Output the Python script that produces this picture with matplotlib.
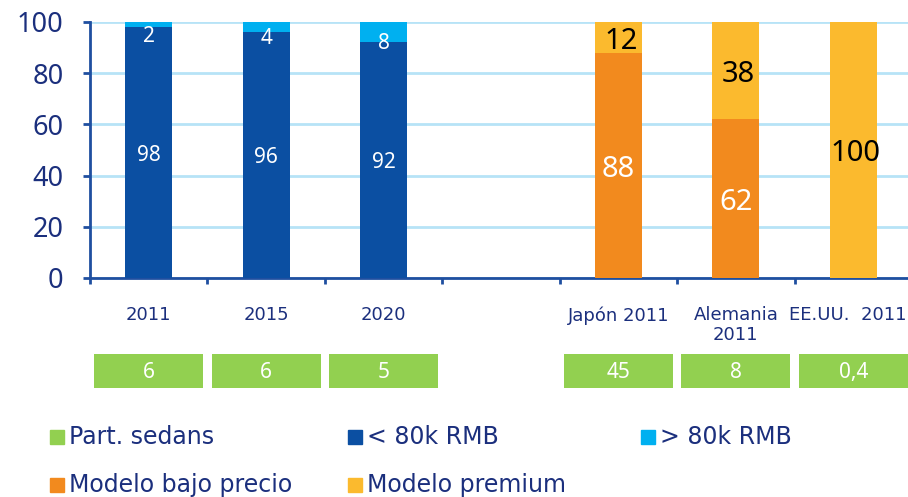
import matplotlib.pyplot as plt
from matplotlib.patches import Rectangle

# Data
categories = ['2011', '2015', '2020', '', 'Japón 2011', 'Alemania\n2011', 'EE.UU.  2011']
below_80k = [98, 96, 92, 0, 0, 0, 0]
above_80k = [2, 4, 8, 0, 0, 0, 0]
low_price = [0, 0, 0, 0, 88, 62, 0]
premium = [0, 0, 0, 0, 12, 38, 100]
sedan_share = ['6', '6', '5', '', '45', '8', '0,4']
legend_labels = ['Part. sedans', '< 80k RMB', '> 80k RMB', 'Modelo bajo precio', 'Modelo premium']

# Colours
navy = '#1b2f7d'
dark_blue = '#0b4fa2'
light_blue = '#00b0f0'
orange = '#f28a1e'
yellow = '#fbba2e'
green = '#92d050'
grid_blue = '#b7e3f7'
spine_blue = '#1f4fa0'

normal_font = ['Noto Sans', 'DejaVu Sans']

W, H = 908, 497
fig = plt.figure(figsize=(W / 100, H / 100), dpi=100)
ax = fig.add_axes([90 / W, 1 - 278 / H, 822 / W, 256 / H])

x = list(range(len(categories)))
w = 0.4

# stacked bars
ax.bar(x, below_80k, width=w, color=dark_blue, zorder=3)
ax.bar(x, above_80k, width=w, bottom=below_80k, color=light_blue, zorder=3)
ax.bar(x, low_price, width=w, color=orange, zorder=3)
ax.bar(x, premium, width=w, bottom=low_price, color=yellow, zorder=3)

# labels inside the bars
for i in x:
    if below_80k[i]:
        ax.text(i, below_80k[i] / 2 - 1, str(below_80k[i]), ha='center', va='center',
                color='white', fontsize=15, family=normal_font, zorder=4)
        ax.text(i, below_80k[i] + above_80k[i] / 2 - 4.5, str(above_80k[i]), ha='center',
                va='center', color='white', fontsize=15, family=normal_font, zorder=4)
    if low_price[i]:
        ax.text(i, low_price[i] / 2 - 1.5, str(low_price[i]), ha='center', va='center',
                color='white', fontsize=21, family=normal_font, zorder=4)
    if premium[i]:
        ax.text(i + 0.02, low_price[i] + premium[i] / 2 - 1.5, str(premium[i]), ha='center',
                va='center', color='black', fontsize=21, family=normal_font, zorder=4)

ax.set_xlim(-0.5, 6.5)
ax.set_ylim(0, 100)
ax.set_yticks(range(0, 101, 20))
ax.yaxis.grid(True, color=grid_blue, linewidth=2, zorder=0)
ax.set_xticks([i - 0.5 for i in range(8)])
ax.set_xticklabels([])
ax.tick_params(axis='y', colors=spine_blue, labelcolor=navy, labelsize=19.5,
               length=5, width=2, direction='out', pad=14)
ax.tick_params(axis='x', colors=spine_blue, length=4, width=2, direction='out')
for lbl in ax.get_yticklabels():
    lbl.set_family(normal_font)
for side in ['top', 'right']:
    ax.spines[side].set_visible(False)
for side in ['left', 'bottom']:
    ax.spines[side].set_color(spine_blue)
    ax.spines[side].set_linewidth(2)

# category names under the axis (last one nudged so it stays inside the figure)
for i, name in enumerate(categories):
    shift = -0.05 if i == len(categories) - 1 else 0
    ax.text(i + shift, -11, name, ha='center', va='top', color=navy, fontsize=13,
            family='DejaVu Sans', linespacing=1.15, clip_on=False)

# green row with sedan share
ax2 = fig.add_axes([90 / W, 1 - 388 / H, 822 / W, 34 / H])
ax2.set_xlim(-0.5, 6.5)
ax2.set_ylim(0, 1)
ax2.axis('off')
for i, val in enumerate(sedan_share):
    if val:
        ax2.bar(i, 1, width=0.93, color=green)
        ax2.text(i, 0.45, val, ha='center', va='center', color='white',
                 fontsize=15, family=normal_font)

# legend, laid out by hand in two rows
legend_colors = [green, dark_blue, light_blue, orange, yellow]
legend_x = [50, 348, 641, 50, 348]
legend_y = [437, 437, 437, 485, 485]
for lab, col, lx, ly in zip(legend_labels, legend_colors, legend_x, legend_y):
    fig.add_artist(Rectangle((lx / W, 1 - (ly + 7) / H), 14 / W, 14 / H,
                             transform=fig.transFigure, color=col))
    fig.text((lx + 19) / W, 1 - ly / H, lab, ha='left', va='center', color=navy,
             fontsize=17, family='DejaVu Sans')

fig.savefig('out.png', dpi=100)
